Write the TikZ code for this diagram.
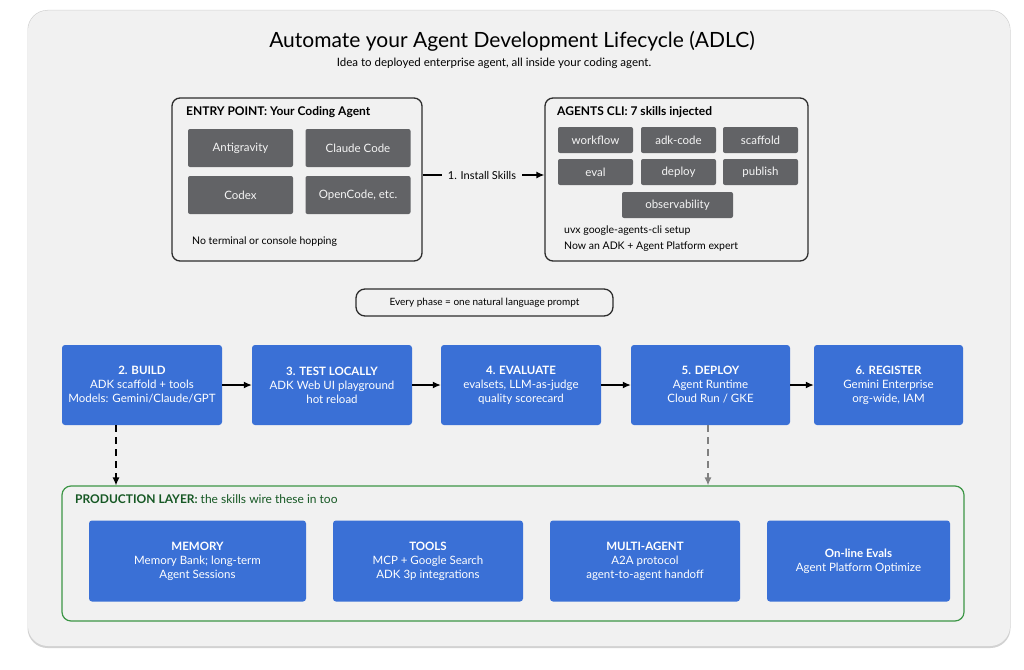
\documentclass[tikz,border=0pt]{standalone}
\usepackage{fontspec}
\setmainfont{Lato}
\usetikzlibrary{positioning, arrows.meta}
\definecolor{myblue}{RGB}{58,112,214}
\definecolor{mygray}{RGB}{98,99,102}
\definecolor{panel}{RGB}{241,241,241}
\definecolor{mygreen}{RGB}{60,150,70}
\definecolor{darkgreen}{RGB}{22,88,36}
\definecolor{myline}{RGB}{45,45,45}

\begin{document}
\begin{tikzpicture}[x=1pt,y=-1pt,
  outer/.style={draw=myline, line width=1.3pt, rounded corners=8pt, inner sep=0pt},
  tool/.style={fill=mygray, rounded corners=2pt, text=white!92!gray, inner sep=0pt,
    font=\fontsize{11.5}{14}\selectfont},
  phase/.style={fill=myblue, rounded corners=3pt, text=white, align=center, inner sep=0pt,
    minimum height=80pt, font=\fontsize{11.5}{14}\selectfont},
  flow/.style={-{Latex[length=8pt,width=7pt]}, line width=1.3pt, black},
  note/.style={anchor=west, font=\fontsize{10.5}{13}\selectfont, inner sep=0pt}]
  \useasboundingbox (0,0) rectangle (1024,669);
  \fill[white] (0,0) rectangle (1024,669);
  %The background panel with a light shadow:
  \fill[gray!35, rounded corners=20pt] (27.5,10) rectangle (1010.5,648);
  \fill[panel, rounded corners=20pt] (28,10.5) rectangle (1010,646);

  %Title and subtitle
  \node[font=\fontsize{21}{25}\selectfont] (title) at (512,41) {Automate your Agent Development Lifecycle (ADLC)};
  \node[font=\fontsize{11.5}{13}\selectfont] (subtitle) at (494,63) {Idea to deployed enterprise agent, all inside your coding agent.};

  %Entry point box
  \node[outer, minimum width=250pt, minimum height=163pt] (entry) at (297,179.5) {};
  \node[note, font=\fontsize{12}{14}\selectfont\bfseries] (entrytitle) at (186,112) {ENTRY POINT: Your Coding Agent};
  \node[tool, minimum width=105pt, minimum height=38pt] (antigravity) at (240.5,148) {Antigravity};
  \node[tool, minimum width=105pt, minimum height=38pt] (claude) at (358,148) {Claude Code};
  \node[tool, minimum width=105pt, minimum height=38pt] (codex) at (240.5,195) {Codex};
  \node[tool, minimum width=105pt, minimum height=38pt] (opencode) at (358,195) {OpenCode, etc.};
  \node[note] (hopping) at (192,242) {No terminal or console hopping};

  %Agents CLI box with the 7 skills
  \node[outer, minimum width=263pt, minimum height=163pt] (cli) at (676.5,179.5) {};
  \node[note, font=\fontsize{12}{14}\selectfont\bfseries] (clititle) at (557,112) {AGENTS CLI: 7 skills injected};
  \foreach \name/\x/\y/\txt in {workflow/595.5/140/workflow, adkcode/678.5/140/adk-code, scaffold/760.5/140/scaffold,
    eval/595.5/172/eval, deploy/678.5/172/deploy, publish/760.5/172/publish}{
    \node[tool, minimum width=75pt, minimum height=26pt] (\name) at (\x,\y) {\txt};
  }
  \node[tool, minimum width=111pt, minimum height=26pt] (observability) at (677.5,205) {observability};
  \node[note] (uvx) at (564,231) {uvx google-agents-cli setup};
  \node[note] (expert) at (564,247) {Now an ADK + Agent Platform expert};

  %Install arrow with its label
  \node[font=\fontsize{11}{13}\selectfont, inner sep=6pt] (install) at (482,175) {1. Install Skills};
  \draw[line width=1.3pt] (entry.east |- install) -- (install.west);
  \draw[flow] (install.east) -- (cli.west |- install);

  %Prompt banner
  \node[draw=myline, line width=1.3pt, rounded corners=9pt, minimum width=257pt, minimum height=27pt,
    inner sep=0pt, font=\fontsize{10}{12}\selectfont] (prompt) at (484.5,302.5) {Every phase = one natural language prompt};

  %The five phases
  \node[phase, minimum width=160pt] (build) at (142,385) {\textbf{2. BUILD}\\ADK scaffold + tools\\Models: Gemini/Claude/GPT};
  \node[phase, minimum width=160pt] (test) at (332,385) {\textbf{3. TEST LOCALLY}\\ADK Web UI playground\\hot reload};
  \node[phase, minimum width=160pt] (evaluate) at (521,385) {\textbf{4. EVALUATE}\\evalsets, LLM-as-judge\\quality scorecard};
  \node[phase, minimum width=159pt] (deployphase) at (710.5,385) {\textbf{5. DEPLOY}\\Agent Runtime\\Cloud Run / GKE};
  \node[phase, minimum width=149pt] (register) at (888.5,385) {\textbf{6. REGISTER}\\Gemini Enterprise\\org-wide, IAM};
  \draw[flow] (build) -- (test);
  \draw[flow] (test) -- (evaluate);
  \draw[flow] (evaluate) -- (deployphase);
  \draw[flow] (deployphase) -- (register);

  %Production layer
  \node[draw=mygreen, line width=1.2pt, rounded corners=9pt, minimum width=902pt, minimum height=135pt,
    inner sep=0pt] (prod) at (513,553.5) {};
  \node[note, text=darkgreen, font=\fontsize{12}{14}\selectfont] (prodtitle) at (75,499)
    {\textbf{PRODUCTION LAYER:} the skills wire these in too};
  \node[phase, minimum width=217pt, minimum height=81pt] (memory) at (197.5,561) {\textbf{MEMORY}\\Memory Bank; long-term\\Agent Sessions};
  \node[phase, minimum width=190pt, minimum height=81pt] (tools) at (428,561) {\textbf{TOOLS}\\MCP + Google Search\\ADK 3p integrations};
  \node[phase, minimum width=190pt, minimum height=81pt] (multi) at (645,561) {\textbf{MULTI-AGENT}\\A2A protocol\\agent-to-agent handoff};
  \node[phase, minimum width=183pt, minimum height=81pt] (online) at (858.5,561) {\textbf{On-line Evals}\\Agent Platform Optimize};

  %Dashed links down to the production layer
  \coordinate (buildout) at ([xshift=-26pt]build.south);
  \coordinate (deployout) at ([xshift=-2.5pt]deployphase.south);
  \draw[flow, dashed, dash pattern=on 7pt off 5pt] (buildout) -- (prod.north -| buildout);
  \draw[flow, dashed, dash pattern=on 7pt off 5pt, gray] (deployout) -- (prod.north -| deployout);
\end{tikzpicture}
\end{document}
